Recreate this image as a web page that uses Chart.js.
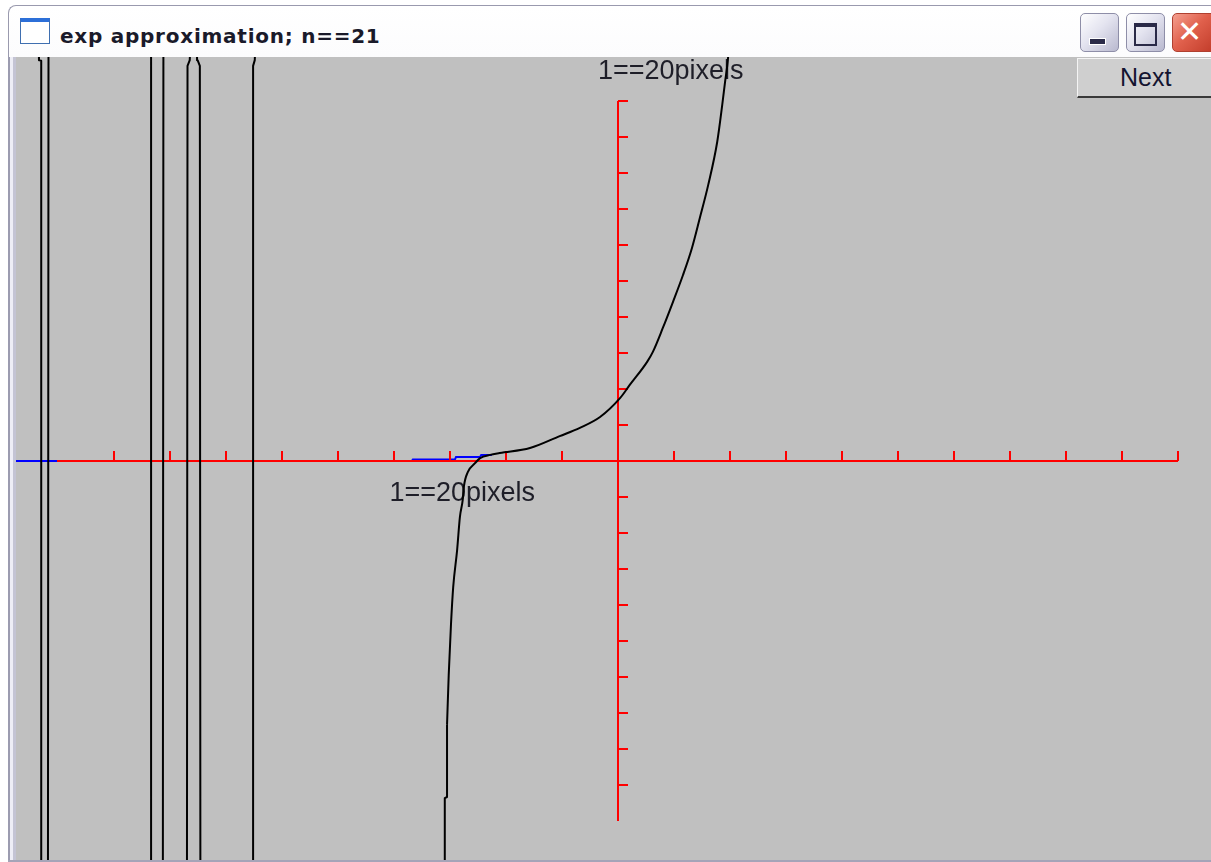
<!DOCTYPE html>
<html>
<head>
<meta charset="utf-8">
<title>exp approximation; n==21</title>
<script src="https://cdn.jsdelivr.net/npm/chart.js@4.4.1/dist/chart.umd.min.js"></script>
<style>
  body { margin: 0; width: 1211px; height: 862px; overflow: hidden; background: #fff; position: relative; }
  #frame { position: absolute; left: 8px; top: 5px; width: 1240px; height: 857px; border-radius: 8px 8px 0 0;
    background: linear-gradient(#ffffff, #f2f2f7 25%, #e3e3eb 60%, #d0d0dc 95%, #a9a9bb);
    border-top: 1px solid #9a9aae; border-left: 1px solid #9a9aae; box-sizing: border-box; }
  #leftBorder { position: absolute; left: 8px; top: 57px; width: 8px; height: 805px;
    background: linear-gradient(to right, #9c9cb0 0 2px, #eeeef6 2px 5px, #c4c4d4 5px 8px); }
  #bottomBorder { position: absolute; left: 8px; top: 860px; width: 1203px; height: 2px; background: #a4a4b8; }
  #icon { position: absolute; left: 20px; top: 18px; width: 28px; height: 21px; background: #fff;
    border: 1px solid #3f6fb0; border-top: 4px solid #2c6fd8; }
  #title { position: absolute; left: 60px; top: 23px; font: bold 20px "DejaVu Sans"; letter-spacing: 0.75px;
    color: #1a1a2a; line-height: 26px; white-space: nowrap; }
  .tb { position: absolute; top: 13px; width: 39px; height: 39px; border-radius: 5px; box-sizing: border-box;
    border: 1px solid #8e8ea8; background: linear-gradient(135deg, #ffffff, #e4e4f0 45%, #b9b9cf); }
  #minB { left: 1080px; } #maxB { left: 1126px; }
  #closeB { left: 1172px; width: 45px; border-color: #b04030; background: linear-gradient(135deg, #f4a090, #e0604c 45%, #c03a28); }
  #minB::after { content: ""; position: absolute; left: 8px; top: 24px; width: 15px; height: 5px; background: #2a2a48; border: 1px solid #fff; }
  #maxB::after { content: ""; position: absolute; left: 7px; top: 9px; width: 19px; height: 17px; border: 2px solid #2a2a48; border-top-width: 4px; }
  #closeB span { position: absolute; left: 4px; top: 2px; font: bold 30px "DejaVu Sans"; color: #fff; line-height: 32px; }
  #client { position: absolute; left: 16px; top: 57px; width: 1195px; height: 803px; background: #c0c0c0; }
  #chart { position: absolute; left: 16px; top: 57px; }
  #next { position: absolute; left: 1077px; top: 58px; width: 140px; height: 40px; box-sizing: border-box;
    background: #cfcfcf; border-top: 1px solid #f4f4f4; border-left: 1px solid #f4f4f4; border-bottom: 2px solid #3a3a3a;
    font: 25px "Liberation Sans"; color: #141430; line-height: 36px; padding-left: 42px; }
</style>
</head>
<body>
<div id="frame"></div>
<div id="icon"></div>
<div id="title"></div>
<div class="tb" id="minB"></div>
<div class="tb" id="maxB"></div>
<div class="tb" id="closeB"><span>✕</span></div>
<div id="leftBorder"></div>
<div id="bottomBorder"></div>
<div id="client"></div>
<canvas id="chart" width="1195" height="803"></canvas>
<div id="next">Next</div>

<script>
const titleText = "exp approximation; n==21";
const axisLabel = "1==20pixels";
const buttonLabel = "Next";

// notch positions on each axis (one notch == 56px across, 36px up)
const xNotches = [-9, -8, -7, -6, -5, -4, -3, -2, -1, 1, 2, 3, 4, 5, 6, 7, 8, 9, 10];
const yNotches = [-9, -8, -7, -6, -5, -4, -3, -2, -1, 1, 2, 3, 4, 5, 6, 7, 8, 9, 10];
const axisEnds = [-10, 10];

// approximation (notch units); +-12 is off screen
// left part: the wild swings, plus the bottom of the main branch
const spikeX = [-10.34, -10.33, -10.29, -10.29,
  -10.17, -10.16,
  -8.33, -8.33,
  -8.12, -8.11,
  -7.62, -7.64, -7.68, -7.69,
  -7.45, -7.46, -7.50, -7.51,
  -6.46, -6.48, -6.51, -6.51,
  -3.09, -3.09, -3.05, -3.05];
const spikeY = [12, 11.12, 11.10, -12,
  -12, 12,
  12, -12,
  -12, 12,
  12, 11.12, 10.96, -12,
  -12, 10.96, 11.12, 12,
  12, 11.12, 10.96, -12,
  -12, -9.35, -9.32, -7.32];
// main branch, from low on the screen up past the top
const curveX = [-3.05, -3.02, -2.98, -2.94, -2.87, -2.82, -2.77, -2.75, -2.68, -2.55,
  -2.46, -2.28, -2.11, -1.57, -1.04, -0.68, -0.32, 0.04, 0.21, 0.52, 0.62, 0.80, 0.98,
  1.16, 1.32, 1.46, 1.61, 1.77, 1.86, 1.91, 1.96, 2.00];
const curveY = [-7.32, -5.94, -4.55, -3.50, -2.47, -1.55, -1.08, -0.72, -0.31, -0.06,
  0.08, 0.17, 0.22, 0.36, 0.69, 0.92, 1.22, 1.75, 2.11, 2.75, 3.02, 3.69, 4.41,
  5.16, 5.91, 6.74, 7.66, 8.85, 9.88, 10.51, 11.12, 12];

// the second (blue) function, visible only where it leaves the axis
const blueX = [-11, -3.68, -3.66, -2.91, -2.89, -2.46, -2.44, -2.25];
const blueY = [0, 0, 0.04, 0.04, 0.11, 0.11, 0.17, 0.17];

document.getElementById("title").textContent = titleText;
document.getElementById("next").textContent = buttonLabel;

function toPoints(xs, ys) {
  const pts = [];
  for (let i = 0; i < xs.length; i++) {
    pts.push({ x: xs[i], y: ys[i] });
  }
  return pts;
}

// red axes + labels, drawn after the blue line and before the black ones
const axesPlugin = {
  id: "axes",
  beforeDatasetDraw(chart, args) {
    if (args.index !== 1) return;
    const ctx = chart.ctx;
    const x = chart.scales.x;
    const y = chart.scales.y;
    const x0 = Math.round(x.getPixelForValue(0));
    const y0 = Math.round(y.getPixelForValue(0));
    ctx.save();
    ctx.strokeStyle = "#ff0000";
    ctx.lineWidth = 2;
    ctx.beginPath();
    ctx.moveTo(Math.round(x.getPixelForValue(axisEnds[0])), y0);
    ctx.lineTo(Math.round(x.getPixelForValue(axisEnds[1])), y0);
    for (const v of xNotches) {
      const px = Math.round(x.getPixelForValue(v));
      ctx.moveTo(px, y0);
      ctx.lineTo(px, y0 - 10);
    }
    ctx.moveTo(x0, Math.round(y.getPixelForValue(axisEnds[0])));
    ctx.lineTo(x0, Math.round(y.getPixelForValue(axisEnds[1])));
    for (const v of yNotches) {
      const py = Math.round(y.getPixelForValue(v));
      ctx.moveTo(x0, py);
      ctx.lineTo(x0 + 10, py);
    }
    ctx.stroke();

    ctx.fillStyle = "#1e1e28";
    ctx.font = '27px "Liberation Sans"';
    ctx.textBaseline = "alphabetic";
    ctx.fillText(axisLabel, x0 - 20, y.getPixelForValue(axisEnds[1]) - 22);
    ctx.fillText(axisLabel, x.getPixelForValue(axisEnds[0]) + 332, y0 + 40);
    ctx.restore();
  }
};

new Chart(document.getElementById("chart"), {
  type: "scatter",
  data: {
    datasets: [
      {
        label: "approximation",
        data: toPoints(curveX, curveY),
        showLine: true,
        borderColor: "#000000",
        borderWidth: 2,
        pointRadius: 0,
        cubicInterpolationMode: "monotone"
      },
      {
        label: "approximation (left)",
        data: toPoints(spikeX, spikeY),
        showLine: true,
        borderColor: "#000000",
        borderWidth: 2,
        pointRadius: 0,
        tension: 0,
        borderJoinStyle: "round"
      },
      {
        label: "exp",
        data: toPoints(blueX, blueY),
        showLine: true,
        borderColor: "#0000ff",
        borderWidth: 2,
        pointRadius: 0,
        tension: 0
      }
    ]
  },
  options: {
    responsive: false,
    animation: false,
    devicePixelRatio: 1,
    layout: { padding: 0 },
    plugins: {
      legend: { display: false },
      tooltip: { enabled: false }
    },
    scales: {
      x: { type: "linear", display: false, min: -10.74, max: 10.58 },
      y: { type: "linear", display: false, min: -11.068, max: 11.207 }
    }
  },
  plugins: [axesPlugin]
});
</script>
</body>
</html>
